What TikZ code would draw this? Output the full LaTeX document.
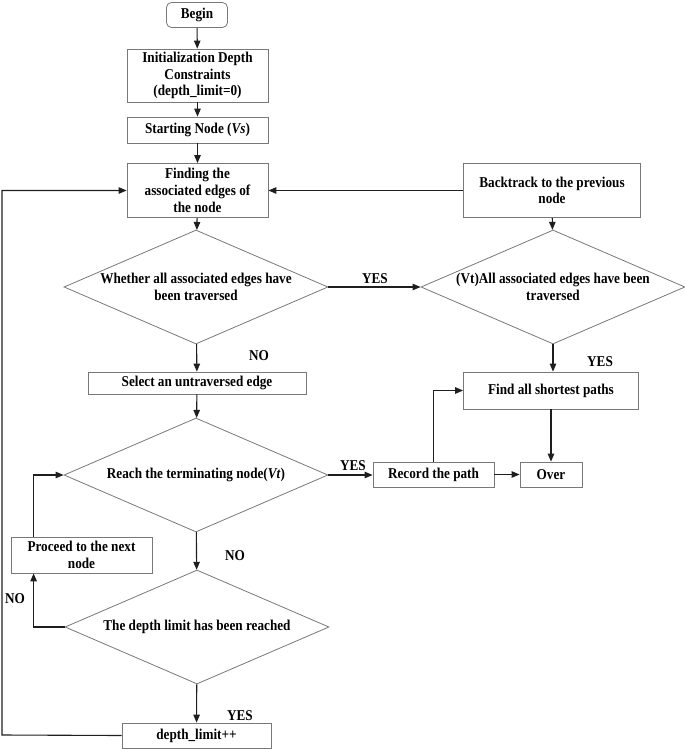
\documentclass[tikz,border=0pt]{standalone}
\usepackage{fontspec}
\setmainfont{Liberation Serif}[FakeStretch=0.88]
\usetikzlibrary{shapes.geometric,arrows.meta}
\definecolor{boxgray}{RGB}{120,120,120}
\definecolor{linecol}{RGB}{30,30,30}
\begin{document}
\begin{tikzpicture}[x=1pt,y=-1pt,
  txt/.style={font=\fontsize{15}{16.7}\selectfont\bfseries, text=black},
  box/.style={txt, draw=boxgray, line width=0.8pt, fill=white, align=center, inner sep=0pt},
  startbox/.style={box, rounded corners=5pt},
  decision/.style={txt, shape=diamond, draw=boxgray, line width=0.8pt, align=center,
    aspect=2.32, minimum width=264pt, minimum height=114pt, inner xsep=-20pt, inner ysep=0pt},
  lbl/.style={txt, inner sep=0pt},
  arr/.style={draw=linecol, line width=1.1pt, -{Triangle[length=8pt,width=6.5pt]}}
]
\useasboundingbox (0,0) rectangle (685,750);

\node[startbox, minimum width=61pt, minimum height=25pt] (begin) at (197,15) {Begin};
\node[box, minimum width=141pt, minimum height=53pt] (init) at (197.5,75.5) {Initialization Depth\\Constraints\\(depth\_limit=0)};
\node[box, minimum width=141pt, minimum height=26pt] (start) at (197.5,130) {Starting Node (\textit{Vs})};
\node[box, minimum width=141pt, minimum height=54pt] (find) at (197.5,190.5) {Finding the\\associated edges of\\the node};
\node[box, minimum width=177pt, minimum height=54pt] (back) at (552,190.5) {Backtrack to the previous\\node};

\node[decision] (d1) at (196,287) {Whether all associated edges have\\been traversed};
\node[decision] (d2) at (553,287) {(Vt)All associated edges have been\\traversed};

\node[box, minimum width=218pt, minimum height=22pt] (select) at (197,383) {Select an untraversed edge};
\node[box, minimum width=175pt, minimum height=37pt] (fsp) at (551,390.5) {Find all shortest paths};

\node[decision] (d3) at (196,475) {Reach the terminating node(\textit{Vt})};
\node[box, minimum width=121pt, minimum height=25pt] (record) at (433.5,474.5) {Record the path};
\node[box, minimum width=62pt, minimum height=25pt] (over) at (551,474.5) {Over};

\node[box, minimum width=141pt, minimum height=36pt] (proceed) at (81.5,555) {Proceed to the next\\node};
\node[decision] (d4) at (197,627) {The depth limit has been reached};
\node[box, minimum width=149pt, minimum height=25pt] (dl) at (196.5,735.5) {depth\_limit++};

\node[lbl] (yes1) at (375,279) {YES};
\node[lbl] (no1) at (259,356) {NO};
\node[lbl] (yes2) at (600,362) {YES};
\node[lbl] (yes3) at (353,466) {YES};
\node[lbl] (no2) at (235,556) {NO};
\node[lbl] (no3) at (15,599) {NO};
\node[lbl] (yes4) at (240,716) {YES};

\coordinate (lp) at (2,735);

\draw[arr] (begin) -- (init);
\draw[arr] (init) -- (start);
\draw[arr] (start) -- (find);
\draw[arr] (back.west) -- (back.west -| find.east);
\draw[arr] (find) -- (d1);
\draw[arr] (back) -- (d2);
\draw[arr] (d1) -- (d2);
\draw[arr] (d1) -- (select);
\draw[arr] (d2.south) -- (d2.south |- fsp.north);
\draw[arr] (select) -- (d3);
\draw[arr] (d3.east) -- (d3.east -| record.west);
\draw[arr] (record) -- (over);
\draw[arr] (record.north) |- (fsp.west);
\draw[arr] (fsp.south) -- (fsp.south |- over.north);
\draw[arr] (d3) -- (d4);
\draw[arr] (d4) -- (dl);
\draw[arr] (d4.west) -| ([xshift=23pt]proceed.south west);
\draw[arr] ([xshift=23pt]proceed.north west) |- (d3.west);
\draw[arr] (dl.west) -- (lp) |- (find.west);
\end{tikzpicture}
\end{document}
